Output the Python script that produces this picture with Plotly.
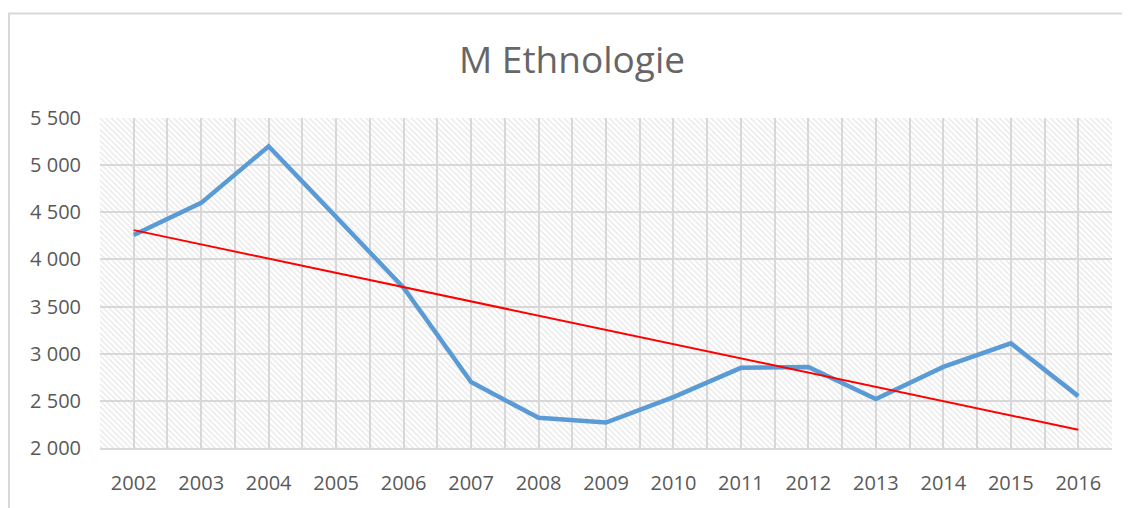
import numpy as np
import plotly.graph_objects as go

years = [2002, 2003, 2004, 2005, 2006, 2007, 2008, 2009, 2010, 2011, 2012, 2013, 2014, 2015, 2016]
values = [4260, 4600, 5200, 4450, 3700, 2700, 2320, 2270, 2540, 2850, 2860, 2520, 2860, 3110, 2550]
title_text = "M Ethnologie"
y_ticks = [2000, 2500, 3000, 3500, 4000, 4500, 5000, 5500]

# linear trend line (Excel-style)
slope, intercept = np.polyfit(years, values, 1)
trend = [slope * y + intercept for y in years]

grid = "#d9d9d9"
txt = "#595959"
font = "Open Sans"

# page has an 8px body margin; size figure so no scrollbars appear
W, H = 1122, 500
L, R, T, B = 92, 18, 110, 55
pw = W - L - R
ph = H - T - B

fig = go.Figure()

# hatched plot-area background on a hidden base axis
fig.add_trace(go.Bar(
    x=[0.5], y=[1], width=[1], xaxis="x", yaxis="y",
    marker=dict(color="rgba(0,0,0,0)", line=dict(width=0),
                pattern=dict(shape="\\", size=4, solidity=0.35,
                             fgcolor="#d2d2d2", bgcolor="rgba(0,0,0,0)")),
    hoverinfo="skip", showlegend=False))

fig.add_trace(go.Scatter(
    x=years, y=values, mode="lines", xaxis="x2", yaxis="y2",
    line=dict(color="#5B9BD5", width=4.5), showlegend=False))
fig.add_trace(go.Scatter(
    x=years, y=trend, mode="lines", xaxis="x2", yaxis="y2",
    line=dict(color="#FF0000", width=2), showlegend=False))

fig.update_layout(
    width=W, height=H,
    margin=dict(l=L, r=R, t=T, b=B),
    paper_bgcolor="white", plot_bgcolor="white",
    separators=", ",
    font=dict(family=font, color=txt, size=20),
    title=dict(text=title_text, x=(572 - 8) / W, xanchor="center",
               y=1 - 52 / H, yanchor="middle",
               font=dict(family=font, size=37, color="#666666")),
    xaxis=dict(range=[0, 1], visible=False, fixedrange=True),
    yaxis=dict(range=[0, 1], visible=False, fixedrange=True),
    xaxis2=dict(overlaying="x", anchor="y2", range=[2001.5, 2016.5],
                tickvals=years, ticktext=[str(y) for y in years],
                showgrid=True, gridcolor=grid, gridwidth=2,
                minor=dict(tick0=2001.5, dtick=1, showgrid=True,
                           gridcolor=grid, gridwidth=2),
                showline=True, linecolor=grid, linewidth=2,
                zeroline=False, ticks="", ticklabelstandoff=16,
                tickfont=dict(size=20, color=txt, family=font)),
    yaxis2=dict(overlaying="y", anchor="x2", range=[2000, 5500],
                tickvals=y_ticks, tickformat=",d",
                showgrid=True, gridcolor=grid, gridwidth=2,
                zeroline=False, showline=False, ticks="",
                ticklabelstandoff=18,
                tickfont=dict(size=20, color=txt, family=font)),
    shapes=[dict(type="rect", xref="paper", yref="paper",
                 x0=(1 - L) / pw, x1=(W + 20 - L) / pw,
                 y0=-(B + 20) / ph, y1=(H - B - 4) / ph,
                 line=dict(color=grid, width=2), layer="below")],
)

fig.write_html("out.html")
